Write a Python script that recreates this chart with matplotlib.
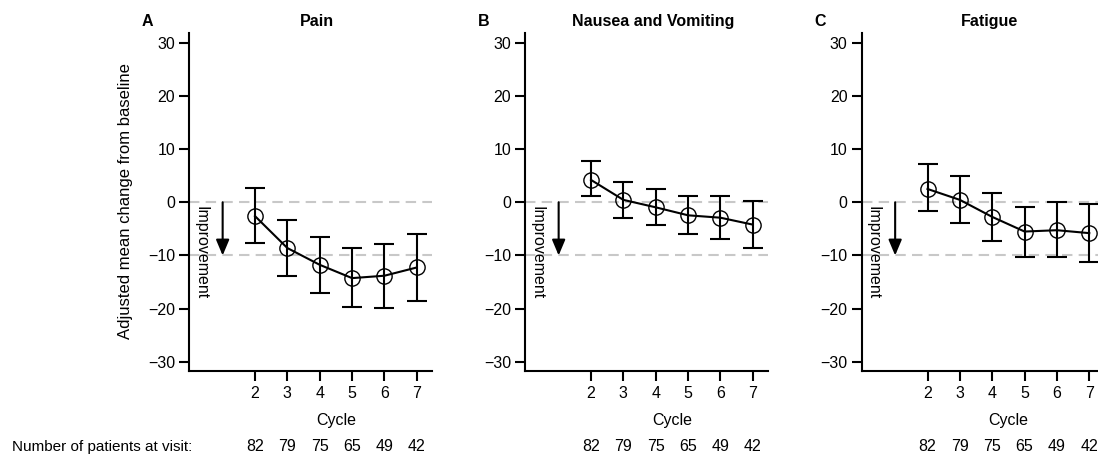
import matplotlib
matplotlib.use("Agg")
import matplotlib.pyplot as plt

plt.rcParams['font.family'] = ['Liberation Sans', 'DejaVu Sans']

cycles = [2, 3, 4, 5, 6, 7]
n_patients = [82, 79, 75, 65, 49, 42]
panel_letters = ["A", "B", "C"]
panel_titles = ["Pain", "Nausea and Vomiting", "Fatigue"]

pain_mean = [-2.6, -8.6, -11.75, -14.25, -13.8, -12.25]
pain_upper = [2.6, -3.4, -6.5, -8.6, -7.75, -6.0]
pain_lower = [-7.7, -13.8, -17.1, -19.7, -19.8, -18.6]

nausea_mean = [4.2, 0.45, -0.95, -2.45, -2.9, -4.2]
nausea_upper = [7.7, 3.8, 2.55, 1.25, 1.25, 0.2]
nausea_lower = [1.1, -2.9, -4.3, -6.0, -6.9, -8.6]

fatigue_mean = [2.5, 0.45, -2.75, -5.5, -5.25, -5.8]
fatigue_upper = [7.1, 4.9, 1.75, -0.8, 0.05, -0.4]
fatigue_lower = [-1.6, -3.9, -7.3, -10.2, -10.3, -11.25]

yticks = [-30, -20, -10, 0, 10, 20, 30]

W, H = 1098, 457
fig = plt.figure(figsize=(W / 100, H / 100), dpi=100)

series = [(pain_mean, pain_upper, pain_lower),
          (nausea_mean, nausea_upper, nausea_lower),
          (fatigue_mean, fatigue_upper, fatigue_lower)]

left_px = [189, 525, 861.5]
ax_w_px = 243
top_px, bot_px = 33, 371
ax_h_px = bot_px - top_px
FS = 11.5

for i, (m, up, lo) in enumerate(series):
    ax = fig.add_axes([left_px[i] / W, 1 - bot_px / H, ax_w_px / W, ax_h_px / H])
    ax.set_xlim(-0.04, 7.47)
    ax.set_ylim(-31.7, 31.8)
    for yv in (0, -10):
        ax.axhline(yv, color='#c8c8c8', lw=1.5, ls=(0, (5, 3)), zorder=1)
    yerr = [[mi - li for mi, li in zip(m, lo)], [ui - mi for mi, ui in zip(m, up)]]
    ax.errorbar(cycles, m, yerr=yerr, fmt='none', ecolor='black', elinewidth=1.5,
                capsize=7.3, capthick=1.5, zorder=3)
    ax.plot(cycles, m, color='black', lw=1.5, zorder=4)
    ax.plot(cycles, m, ls='none', marker='o', ms=11, mfc='none', mec='black', mew=1.0, zorder=5)
    ax.annotate('', xy=(1, -10), xytext=(1, 0),
                arrowprops=dict(arrowstyle='-|>,head_length=0.95,head_width=0.4',
                                mutation_scale=10, lw=1.5, color='black',
                                shrinkA=0, shrinkB=0), zorder=4)
    ax.text(0.33, -0.7, 'Improvement', rotation=270, ha='center', va='top', fontsize=11.5)
    ax.spines['top'].set_visible(False)
    ax.spines['right'].set_visible(False)
    for s in ('left', 'bottom'):
        ax.spines[s].set_linewidth(1.5)
    ax.set_xticks(cycles)
    ax.set_xticklabels([str(c) for c in cycles])
    ax.set_yticks(yticks)
    ax.set_yticklabels([str(t).replace('-', '\u2212') for t in yticks])
    ax.tick_params(axis='both', length=7.5, width=1.5, labelsize=FS, direction='out')
    ax.tick_params(axis='x', pad=3.5)
    ax.tick_params(axis='y', pad=2.5)
    xt = ax.get_xaxis_transform()
    ax.text(4.5, (bot_px - 421) / ax_h_px, 'Cycle', transform=xt,
            ha='center', va='center', fontsize=11.5)
    for c, n in zip(cycles, n_patients):
        ax.text(c, (bot_px - 446.5) / ax_h_px, str(n), transform=xt,
                ha='center', va='center', fontsize=11.5)
    fig.text((left_px[i] - 41.5) / W, 1 - 21.5 / H, panel_letters[i], ha='center', va='center',
             fontsize=FS, fontweight='bold')
    fig.text((left_px[i] + 128) / W, 1 - 21.5 / H, panel_titles[i], ha='center', va='center',
             fontsize=FS, fontweight='bold')

fig.text(125.5 / W, 1 - 201 / H, 'Adjusted mean change from baseline', rotation=90,
         ha='center', va='center', fontsize=12)
fig.text(12 / W, 1 - 446.5 / H, 'Number of patients at visit:', ha='left', va='center', fontsize=11)

fig.savefig('out.png', dpi=100)
